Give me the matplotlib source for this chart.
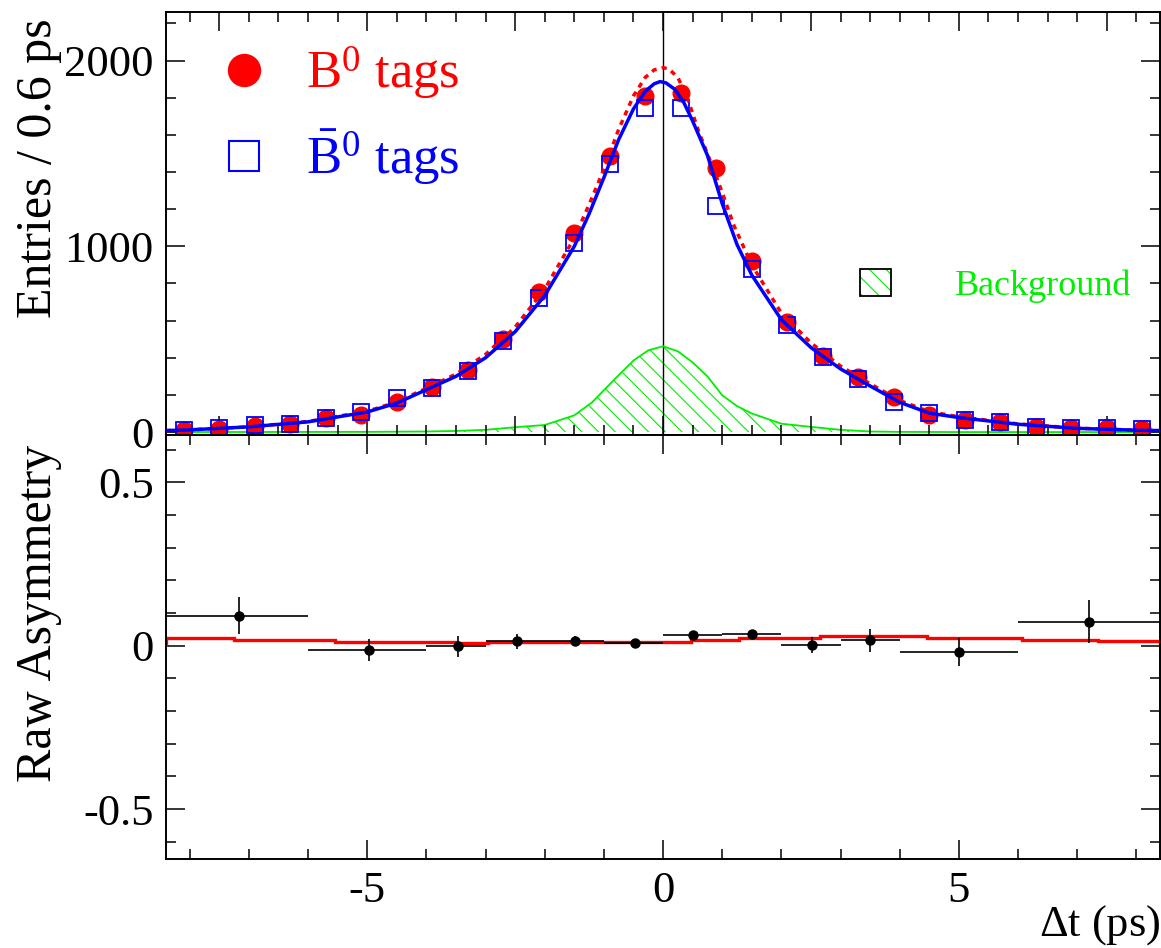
import matplotlib
matplotlib.use('Agg')
import matplotlib.pyplot as plt
from matplotlib import ticker
from matplotlib.lines import Line2D
from matplotlib.patches import Patch
from matplotlib.legend_handler import HandlerTuple

plt.rcParams['font.family'] = ['Liberation Serif', 'DejaVu Serif']
plt.rcParams['mathtext.fontset'] = 'custom'
plt.rcParams['mathtext.rm'] = 'Liberation Serif'
plt.rcParams['mathtext.it'] = 'Liberation Serif:italic'
plt.rcParams['axes.unicode_minus'] = False
plt.rcParams['hatch.linewidth'] = 0.8

RED = '#ff0000'
BLUE = '#0000ff'
GREEN = '#00ee00'

# --- top panel: Delta t distributions, 0.6 ps bins ---
dt_centers = [-8.1, -7.5, -6.9, -6.3, -5.7, -5.1, -4.5, -3.9, -3.3, -2.7, -2.1, -1.5, -0.9, -0.3,
              0.3, 0.9, 1.5, 2.1, 2.7, 3.3, 3.9, 4.5, 5.1, 5.7, 6.3, 6.9, 7.5, 8.1]
b0_counts = [10, 18, 35, 45, 78, 92, 162, 242, 335, 500, 752, 1070, 1485, 1810,
             1828, 1420, 920, 591, 410, 295, 190, 91, 63, 55, 27, 20, 20, 14]
b0bar_counts = [11, 20, 37, 43, 75, 109, 183, 236, 328, 489, 720, 1020, 1446, 1747,
                1747, 1215, 880, 575, 403, 285, 161, 102, 65, 54, 27, 22, 22, 16]

# fit projections
b0bar_fit_x = [-8.4, -8.0, -7.0, -6.0, -5.0, -4.5, -4.0, -3.5, -3.0, -2.5, -2.0, -1.5, -1.25, -1.0,
               -0.75, -0.5, -0.3, -0.15, -0.05, 0.05, 0.2, 0.35, 0.5, 0.75, 1.0, 1.25, 1.5,
               2.0, 2.5, 3.0, 3.5, 4.0, 4.5, 5.0, 6.0, 7.0, 8.0, 8.4]
b0bar_fit_y = [8, 12, 28, 55, 108, 156, 228, 300, 400, 540, 735, 1000, 1175, 1370,
               1575, 1740, 1835, 1875, 1887, 1880, 1845, 1775, 1675, 1490, 1230, 1010, 845,
               605, 455, 340, 248, 160, 102, 78, 42, 20, 10, 8]
b0_fit_x = [-8.4, -8.0, -7.0, -6.0, -5.0, -4.5, -4.0, -3.5, -3.0, -2.5, -2.0, -1.5, -1.25, -1.0,
            -0.75, -0.5, -0.3, -0.15, 0.0, 0.1, 0.25, 0.4, 0.6, 0.86, 1.0, 1.2, 1.5,
            2.0, 2.5, 3.0, 3.5, 4.0, 4.5, 5.0, 6.0, 7.0, 8.0, 8.4]
b0_fit_y = [8, 12, 28, 57, 112, 162, 236, 312, 418, 565, 770, 1045, 1225, 1415,
            1630, 1810, 1910, 1950, 1962, 1955, 1909, 1810, 1620, 1409, 1290, 1110, 900,
            640, 480, 355, 260, 170, 110, 82, 44, 21, 10, 8]
bkg_x = [-8.4, -5.0, -4.0, -3.5, -3.0, -2.5, -2.0, -1.5, -1.2, -1.0, -0.8, -0.5, -0.25, 0.0,
         0.25, 0.5, 0.75, 1.0, 1.25, 1.5, 2.0, 2.5, 3.0, 3.5, 4.0, 5.0, 8.4]
bkg_y = [0, 1, 3, 6, 12, 26, 38, 90, 160, 225, 290, 385, 440, 462,
         435, 375, 300, 198, 140, 100, 45, 28, 12, 3, 1, 0, 0]

# --- bottom panel: raw asymmetry in variable bins ---
asym_x = [-7.16, -4.97, -3.47, -2.47, -1.48, -0.48, 0.51, 1.51, 2.51, 3.50, 5.01, 7.20]
asym_lo = [-10, -6, -4, -3, -2, -1, 0, 1, 2, 3, 4, 6]
asym_hi = [-6, -4, -3, -2, -1, 0, 1, 2, 3, 4, 6, 10]
asym_y = [0.092, -0.013, -0.002, 0.013, 0.015, 0.008, 0.033, 0.036, 0.003, 0.017, -0.020, 0.074]
asym_err = [0.057, 0.035, 0.032, 0.023, 0.015, 0.010, 0.010, 0.010, 0.025, 0.035, 0.043, 0.067]
asym_fit_edges = [-8.4, -7.25, -5.55, -3.48, -2.96, 0.48, 1.29, 2.66, 4.46, 6.06, 7.35, 8.4]
asym_fit_vals = [0.024, 0.017, 0.012, 0.007, 0.012, 0.017, 0.024, 0.031, 0.024, 0.017, 0.013]

fig = plt.figure(figsize=(11.61, 9.48), dpi=100)
ax1 = fig.add_axes([0.1430, 0.5411, 0.8562, 0.4459])
ax2 = fig.add_axes([0.1430, 0.0939, 0.8562, 0.4472])

# top panel
ax1.fill_between(bkg_x, bkg_y, 0, facecolor='none', edgecolor=GREEN, hatch='\\\\', linewidth=0, zorder=1)
ax1.plot(bkg_x, bkg_y, color=GREEN, lw=1.3, zorder=1.5)
ax1.axvline(0, color='black', lw=1.0, zorder=1.2)
ax1.plot(dt_centers, b0_counts, 'o', color=RED, ms=12, mec=RED, zorder=2)
ax1.plot(dt_centers, b0bar_counts, 's', mfc='none', mec=BLUE, mew=1.3, ms=11, zorder=3)
ax1.plot(b0_fit_x, b0_fit_y, color=RED, lw=2.5, ls=(0, (1.5, 1.5)), zorder=4)
ax1.plot(b0bar_fit_x, b0bar_fit_y, color=BLUE, lw=2.5, zorder=5)

ax1.set_xlim(-8.4, 8.4)
ax1.set_ylim(-16, 2260)
ax1.set_ylabel('Entries / 0.6 ps', fontsize=36, loc='top')
ax1.yaxis.set_label_coords(-0.105, 0.986)
ax1.xaxis.set_major_locator(ticker.MultipleLocator(2.5))
ax1.xaxis.set_minor_locator(ticker.MultipleLocator(0.5))
ax1.yaxis.set_major_locator(ticker.MultipleLocator(1000))
ax1.yaxis.set_minor_locator(ticker.MultipleLocator(200))
ax1.tick_params(labelbottom=False)

h_b0 = Line2D([], [], marker='o', ls='none', color=RED, ms=23)
h_b0bar = Line2D([], [], marker='s', ls='none', mfc='none', mec=BLUE, mew=1.5, ms=21)
leg1 = ax1.legend([h_b0, h_b0bar], [r'$\mathrm{B}^0$ tags', r'$\bar{\mathrm{B}}^0$ tags'],
                  loc='center left', bbox_to_anchor=(0.047, 0.755), frameon=False,
                  fontsize=38, labelcolor=[RED, BLUE], handlelength=1.2, handletextpad=0.57,
                  labelspacing=0.5, borderpad=0, borderaxespad=0, numpoints=1)
ax1.add_artist(leg1)

bkg_fill = Patch(facecolor='none', edgecolor=GREEN, hatch='\\\\', linewidth=0)
bkg_box = Patch(facecolor='none', edgecolor='black', linewidth=1.3)
ax1.legend([(bkg_fill, bkg_box)], ['Background'], handler_map={tuple: HandlerTuple(ndivide=1)},
           loc='center left', bbox_to_anchor=(0.698, 0.3525), frameon=False, fontsize=26,
           labelcolor=GREEN, handlelength=0.86, handleheight=0.8, handletextpad=1.78,
           borderpad=0, borderaxespad=0)

# bottom panel
ax2.stairs(asym_fit_vals, asym_fit_edges, color=RED, lw=2.4, zorder=2)
xerr = [[x - lo for x, lo in zip(asym_x, asym_lo)], [hi - x for x, hi in zip(asym_x, asym_hi)]]
ax2.errorbar(asym_x, asym_y, xerr=xerr, yerr=asym_err, fmt='o', color='black', ms=6.5,
             elinewidth=1.2, capsize=0, zorder=3)

ax2.set_xlim(-8.4, 8.4)
ax2.set_ylim(-0.653, 0.645)
ax2.set_ylabel('Raw Asymmetry', fontsize=36, loc='top')
ax2.yaxis.set_label_coords(-0.105, 0.976)
ax2.set_xlabel(r'$\Delta$t (ps)', fontsize=32, loc='right')
ax2.xaxis.set_label_coords(1.0, -0.105)
ax2.xaxis.set_major_locator(ticker.MultipleLocator(5))
ax2.xaxis.set_minor_locator(ticker.MultipleLocator(1))
ax2.yaxis.set_major_locator(ticker.MultipleLocator(0.5))
ax2.yaxis.set_minor_locator(ticker.MultipleLocator(0.1))
ax2.xaxis.set_major_formatter(ticker.FormatStrFormatter('%g'))
ax2.yaxis.set_major_formatter(ticker.FormatStrFormatter('%g'))

for ax in (ax1, ax2):
    ax.tick_params(which='both', direction='in', top=True, right=True, width=1.1, labelsize=32)
    ax.tick_params(which='major', length=14, pad=9)
    ax.tick_params(which='minor', length=7)
    for s in ax.spines.values():
        s.set_linewidth(1.4)

fig.savefig('out.png', dpi=100)
